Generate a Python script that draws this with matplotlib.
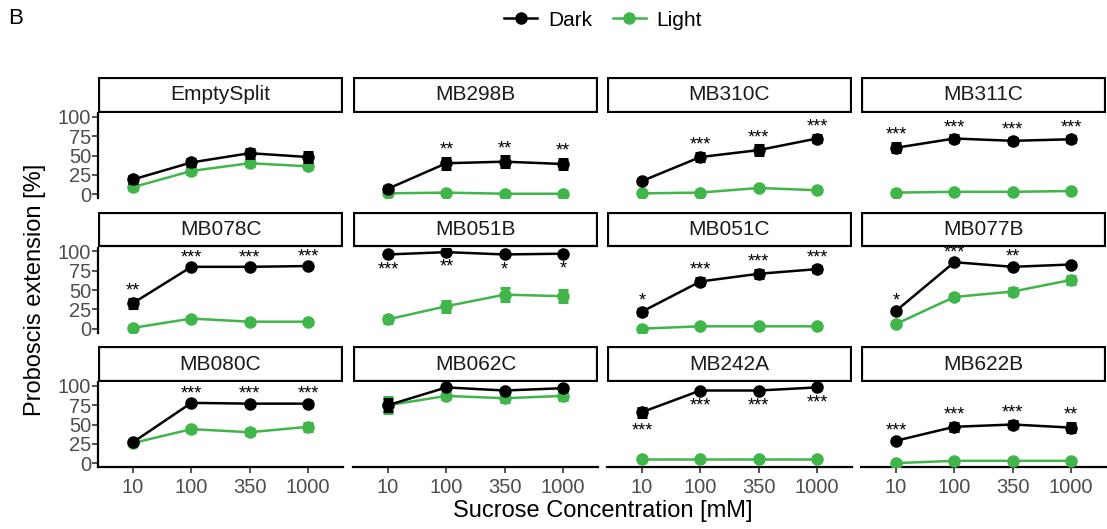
import matplotlib
matplotlib.use("Agg")
import matplotlib.pyplot as plt
from matplotlib.lines import Line2D
from matplotlib.patches import Rectangle

plt.rcParams['font.family'] = ['Liberation Sans', 'DejaVu Sans']

concentrations = ["10", "100", "350", "1000"]
lines = ["EmptySplit", "MB298B", "MB310C", "MB311C",
         "MB078C", "MB051B", "MB051C", "MB077B",
         "MB080C", "MB062C", "MB242A", "MB622B"]

dark_mean = [
    [19, 41, 53, 48], [7, 40, 42, 39], [17, 48, 57, 72], [60, 72, 69, 71],
    [33, 80, 80, 81], [96, 99, 96, 97], [22, 61, 71, 77], [23, 86, 80, 83],
    [27, 78, 77, 77], [75, 98, 94, 97], [66, 94, 94, 98], [29, 47, 50, 46],
]
dark_se = [
    [4, 5, 6, 6], [3, 7, 7, 7], [3, 5, 6, 5], [6, 4, 4, 4],
    [6, 2, 2, 2], [2, 1, 2, 2], [4, 5, 5, 4], [3, 2, 3, 2],
    [2, 2, 2, 2], [8, 2, 2, 2], [6, 2, 2, 2], [2, 5, 5, 6],
]
light_mean = [
    [9, 30, 40, 36], [1, 2, 0.5, 0.5], [1, 2, 8, 5], [2, 3, 3, 4],
    [1, 13, 9, 9], [12, 29, 44, 42], [0, 3, 3, 3], [6, 41, 48, 63],
    [26, 44, 40, 47], [75, 87, 84, 87], [6, 6, 6, 6], [0, 3, 3, 3],
]
light_se = [
    [3, 4, 4, 4], [1, 1, 1, 1], [1, 1, 2, 1], [1, 1, 1, 1],
    [1, 2, 2, 2], [5, 7, 8, 8], [1, 1, 1, 1], [2, 4, 5, 5],
    [3, 4, 4, 5], [10, 4, 5, 5], [1, 1, 1, 1], [1, 1, 1, 1],
]
stars = [
    ["", "", "", ""], ["", "**", "**", "**"], ["", "***", "***", "***"], ["***", "***", "***", "***"],
    ["**", "***", "***", "***"], ["***", "**", "*", "*"], ["*", "***", "***", "***"], ["*", "***", "**", ""],
    ["", "***", "***", "***"], ["", "", "", ""], ["***", "***", "***", "***"], ["***", "***", "***", "**"],
]
# significance labels drawn under the dark curve for these lines
stars_below = ["MB051B", "MB242A"]

dark_col = "black"
light_col = "#3FB54A"
W, H = 1107, 529

fig = plt.figure(figsize=(W / 100, H / 100), dpi=100)

col_left = [98, 353, 607, 861]
panel_w = 245
row_top = [113, 247.5, 382]
panel_h = 85
strip_h = 36

x = list(range(len(concentrations)))
for i, name in enumerate(lines):
    r, c = divmod(i, 4)
    left = col_left[c] / W
    bottom = 1 - (row_top[r] + panel_h) / H
    ax = fig.add_axes([left, bottom, panel_w / W, panel_h / H])
    ax.set_xlim(-0.6, 3.6)
    ax.set_ylim(-5, 105)

    ax.errorbar(x, light_mean[i], yerr=light_se[i], color=light_col, lw=1.8,
                marker="o", ms=8, capsize=3.5, elinewidth=2.6, capthick=2.2,
                zorder=3)
    ax.errorbar(x, dark_mean[i], yerr=dark_se[i], color=dark_col, lw=1.8,
                marker="o", ms=8, capsize=3.5, elinewidth=2.6, capthick=2.2,
                zorder=4)

    for j, s in enumerate(stars[i]):
        if not s:
            continue
        if name in stars_below:
            ty = dark_mean[i][j] - dark_se[i][j] - 18
        else:
            ty = dark_mean[i][j] + dark_se[i][j] + 10
        ax.text(j, ty, s, ha="center", va="center", fontsize=13,
                color="black")

    for sp in ["top", "right"]:
        ax.spines[sp].set_visible(False)
    ax.spines["left"].set_visible(c == 0)
    ax.spines["bottom"].set_visible(r == 2)
    for sp in ["left", "bottom"]:
        ax.spines[sp].set_linewidth(1.6)

    ax.set_yticks([0, 25, 50, 75, 100])
    ax.set_xticks(x)
    ax.tick_params(colors="#333333", labelcolor="#4D4D4D", labelsize=14.5,
                   width=1.2, length=4, pad=2)
    if c == 0:
        ax.set_yticklabels(["0", "25", "50", "75", "100"])
        ax.tick_params(axis="y", pad=1)
    else:
        ax.tick_params(axis="y", left=False, labelleft=False)
    if r == 2:
        ax.set_xticklabels(concentrations)
        ax.tick_params(axis="x", pad=4)
    else:
        ax.tick_params(axis="x", bottom=False, labelbottom=False)

    # facet strip
    sax = fig.add_axes([left, 1 - row_top[r] / H, panel_w / W, strip_h / H])
    sax.set_axis_off()
    sax.add_patch(Rectangle((0.004, 0.03), 0.992, 0.94, transform=sax.transAxes,
                            facecolor="white", edgecolor="black", lw=1.6))
    sax.text(0.5, 0.5, name, ha="center", va="center", fontsize=15,
             color="#1A1A1A", transform=sax.transAxes)

fig.text(35 / W, 1 - 290 / H, "Proboscis extension [%]", rotation=90,
         ha="center", va="center", fontsize=17)
fig.text(603 / W, 1 - 511 / H, "Sucrose Concentration [mM]",
         ha="center", va="center", fontsize=17)
fig.text(8 / W, 1 - 18 / H, "B", ha="left", va="center", fontsize=16)

handles = [Line2D([], [], color=dark_col, marker="o", lw=1.8, ms=8),
           Line2D([], [], color=light_col, marker="o", lw=1.8, ms=8)]
fig.legend(handles, ["Dark", "Light"], loc="center", ncol=2,
           bbox_to_anchor=(603 / W, 1 - 20 / H), frameon=False, fontsize=15,
           handlelength=1.6, columnspacing=1.0, handletextpad=0.5)

fig.savefig("out.png", dpi=100)
